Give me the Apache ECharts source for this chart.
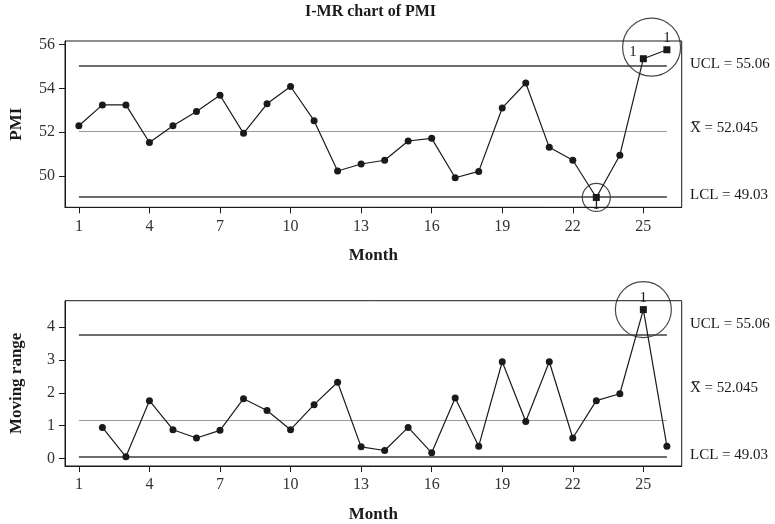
<!DOCTYPE html>
<html>
<head>
<meta charset="utf-8">
<script src="https://cdn.jsdelivr.net/npm/echarts@6/dist/echarts.min.js"></script>
<style>
  html, body { margin: 0; padding: 0; background: #fff; }
  #chart { width: 775px; height: 524px; }
</style>
</head>
<body>
<div id="chart"></div>
<script>
// Individual values and moving ranges of the PMI, by month
const months = [1, 2, 3, 4, 5, 6, 7, 8, 9, 10, 11, 12, 13, 14, 15, 16, 17, 18, 19, 20, 21, 22, 23, 24, 25, 26];
const pmi = [52.30, 53.25, 53.25, 51.53, 52.30, 52.95, 53.69, 51.95, 53.30, 54.09, 52.53, 50.23, 50.55,
             50.72, 51.60, 51.72, 49.92, 50.21, 53.11, 54.25, 51.31, 50.72, 49.02, 50.95, 55.36, 55.77];
const movingRange = [null, 0.95, 0.06, 1.76, 0.88, 0.63, 0.86, 1.82, 1.46, 0.88, 1.64, 2.32, 0.36,
                     0.25, 0.95, 0.18, 1.84, 0.38, 2.94, 1.13, 2.94, 0.63, 1.76, 1.97, 4.52, 0.38];

// Control limits: [UCL, centre line, LCL]
const pmiLimits = [55.06, 52.045, 49.03];
const mrLimits = [3.75, 1.165, 0.07];

// Months flagged by test 1 (point beyond a control limit)
const pmiFlagged = [23, 25, 26];
const mrFlagged = [25];

// Ring annotations: [month, value, diameter]
const pmiRings = [[25.35, 55.89, 58], [23, 49.02, 28]];
const mrRings = [[25, 4.52, 56]];

// Axis ticks
const monthTicks = [1, 4, 7, 10, 13, 16, 19, 22, 25];
const pmiTicks = [50, 52, 54, 56];
const mrTicks = [0, 1, 2, 3, 4];

// Right-hand limit captions
const limitCaptions = ['UCL = 55.06', 'X\u0305 = 52.045', 'LCL = 49.03'];

const FONT = '"Liberation Serif", "DejaVu Serif", serif';
const INK = '#1a1a1a';

// label placement of the "1" flags, per panel and month
const flagLabel = {
  pmi: {
    23: { position: 'inside', offset: [0, 8] },
    25: { position: 'left', distance: 3, offset: [0, -7] },
    26: { position: 'top', distance: 1 }
  },
  mr: {
    25: { position: 'top', distance: 1 }
  }
};

function buildPoints(values, flagged, labels) {
  const out = [];
  values.forEach((v, i) => {
    if (v == null) return;
    const m = months[i];
    if (flagged.indexOf(m) >= 0) {
      const lb = labels[m] || { position: 'top' };
      out.push({
        value: [m, v],
        symbol: 'rect',
        symbolSize: 7,
        label: Object.assign({
          show: true,
          formatter: '1',
          color: INK,
          fontFamily: FONT,
          fontSize: 15
        }, lb)
      });
    } else {
      out.push({ value: [m, v] });
    }
  });
  return out;
}

function limitLines(limits) {
  return limits.map((v, k) => [
    { coord: [months[0], v], lineStyle: { color: k === 1 ? '#9a9a9a' : '#3c3c3c', width: k === 1 ? 1.2 : 1.5, type: 'solid' } },
    { coord: [months[months.length - 1], v] }
  ]);
}

function xAxisFor(gridIndex) {
  return {
    type: 'value',
    gridIndex: gridIndex,
    min: 0.41,
    max: 26.63,
    name: 'Month',
    nameLocation: 'middle',
    nameGap: 40,
    nameTextStyle: { fontFamily: FONT, fontSize: 17, fontWeight: 'bold', color: INK },
    axisLine: { show: true, onZero: false, lineStyle: { color: INK, width: 1 } },
    axisTick: { show: true, inside: false, length: 6, customValues: monthTicks, lineStyle: { color: INK } },
    axisLabel: { customValues: monthTicks, margin: 11, fontFamily: FONT, fontSize: 16, color: '#333' },
    splitLine: { show: false }
  };
}

function yAxisFor(gridIndex, name, min, max, ticks) {
  return {
    type: 'value',
    gridIndex: gridIndex,
    min: min,
    max: max,
    name: name,
    nameLocation: 'middle',
    nameRotate: 90,
    nameGap: 40,
    nameTextStyle: { fontFamily: FONT, fontSize: 17, fontWeight: 'bold', color: INK },
    axisLine: { show: true, onZero: false, lineStyle: { color: INK, width: 1 } },
    axisTick: { show: true, inside: false, length: 6, customValues: ticks, lineStyle: { color: INK } },
    axisLabel: { customValues: ticks, margin: 10, fontFamily: FONT, fontSize: 16, color: '#333' },
    splitLine: { show: false }
  };
}

function ringSeries(rings, xi, yi) {
  return {
    type: 'scatter',
    xAxisIndex: xi,
    yAxisIndex: yi,
    silent: true,
    clip: false,
    z: 1,
    data: rings.map(r => ({ value: [r[0], r[1]], symbolSize: r[2] })),
    symbol: 'circle',
    itemStyle: { color: 'rgba(0,0,0,0)', borderColor: INK, borderWidth: 1.2 }
  };
}

function lineSeries(values, flagged, labels, limits, xi, yi) {
  return {
    type: 'line',
    xAxisIndex: xi,
    yAxisIndex: yi,
    data: buildPoints(values, flagged, labels),
    symbol: 'circle',
    symbolSize: 7,
    showAllSymbol: true,
    z: 3,
    lineStyle: { color: INK, width: 1.2 },
    itemStyle: { color: INK },
    emphasis: { disabled: true },
    markLine: {
      silent: true,
      symbol: 'none',
      z: 2,
      label: { show: false },
      data: limitLines(limits)
    },
    animation: false
  };
}

function captionTexts(top) {
  const offsets = [24.5, 89, 155.5];
  return limitCaptions.map((t, k) => ({
    type: 'text',
    left: 690,
    top: top + offsets[k] - 9,
    style: { text: t, fontFamily: FONT, fontSize: 15, fill: INK }
  }));
}

const chart = echarts.init(document.getElementById('chart'), null, { renderer: 'canvas' });

const option = {
  animation: false,
  backgroundColor: '#ffffff',
  grid: [
    { left: 63.3, right: 93.3, top: 41, height: 166.3, show: true, borderColor: INK, borderWidth: 1, backgroundColor: 'transparent' },
    { left: 63.3, right: 93.3, top: 300.7, height: 166, show: true, borderColor: INK, borderWidth: 1, backgroundColor: 'transparent' }
  ],
  xAxis: [xAxisFor(0), xAxisFor(1)],
  yAxis: [
    yAxisFor(0, 'PMI', 48.57, 56.17, pmiTicks),
    yAxisFor(1, 'Moving range', -0.22, 4.79, mrTicks)
  ],
  graphic: [
    {
      type: 'text',
      left: 305,
      top: 4,
      style: { text: 'I-MR chart of PMI', fontFamily: FONT, fontSize: 16, fontWeight: 'bold', fill: INK }
    }
  ].concat(captionTexts(41), captionTexts(300.7)),
  series: [
    ringSeries(pmiRings, 0, 0),
    lineSeries(pmi, pmiFlagged, flagLabel.pmi, pmiLimits, 0, 0),
    ringSeries(mrRings, 1, 1),
    lineSeries(movingRange, mrFlagged, flagLabel.mr, mrLimits, 1, 1)
  ]
};

chart.setOption(option);
</script>
</body>
</html>
